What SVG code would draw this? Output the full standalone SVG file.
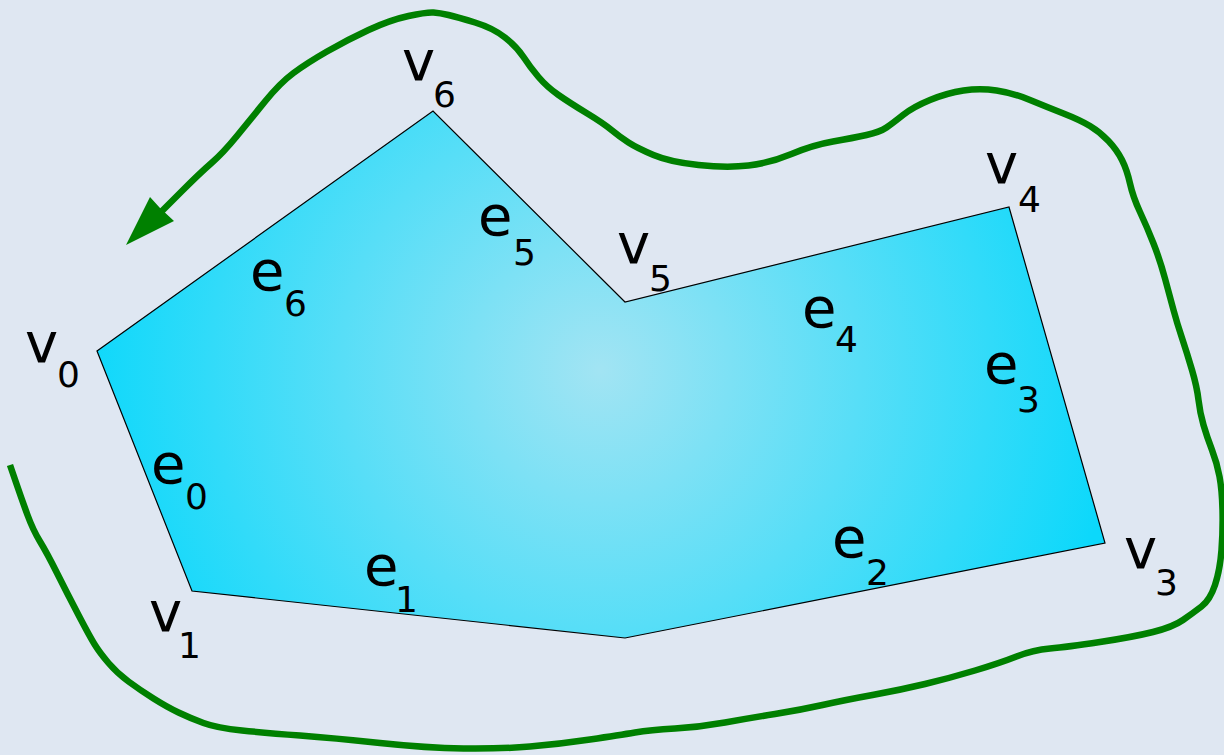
<svg xmlns="http://www.w3.org/2000/svg" width="1224" height="755" viewBox="0 0 1224 755">
<style>
.lbl{font-family:"DejaVu Sans","Liberation Sans",sans-serif;fill:#000}
.m{font-size:56px}
.s{font-size:36px}
.curve{fill:none;stroke:#008000;stroke-width:6.5;stroke-linecap:butt;stroke-linejoin:round}
</style>
<defs>
<radialGradient id="fillg" gradientUnits="userSpaceOnUse" cx="600" cy="370" r="520">
<stop offset="0" stop-color="#a2e4f3"/>
<stop offset="1" stop-color="#0cd8fb"/>
</radialGradient>
</defs>
<rect width="1224" height="755" fill="#dfe7f2"/>
<g id="polygon">
<polygon points="97,351 192,591 625,638 1105,543 1009,207 625,302 433,111" fill="url(#fillg)" stroke="#000" stroke-width="1.2" stroke-linejoin="miter"/>
</g>
<g id="connectors">
<path class="curve" d="M10,465 L16,482.5 Q22,500 27.5,515 Q33,530 40,541.5 Q47,553 57,573 Q67,593 78.5,615 Q90,637 95,645 Q100,653 108.5,663 Q117,673 128.5,681.5 Q140,690 153.5,698.5 Q167,707 178.5,712.5 Q190,718 203.5,723 Q217,728 242,730.5 Q267,733 300,735.5 Q333,738 380,743 Q427,748 463.5,748.5 Q500,749 530,746.5 Q560,744 590,739.5 Q620,735 635,732.5 Q650,730 675,728.5 Q700,727 725,722.5 Q750,718 775,714 Q800,710 822.5,705 Q845,700 872.5,695 Q900,690 925,684 Q950,678 975,670.5 Q1000,663 1016.5,656.5 Q1033,650 1050,648.5 Q1067,647 1100,642 Q1133,637 1153,632 Q1173,627 1183,620 Q1193,613 1201.5,606.5 Q1210,600 1215,585 Q1220,570 1221.5,550 Q1223,530 1222.5,510 Q1222,490 1219.5,476.5 Q1217,463 1212,450 Q1207,437 1203.5,425 Q1200,413 1198.5,400 Q1197,387 1192,370 Q1187,353 1182,338 Q1177,323 1173.5,310 Q1170,297 1165,278.5 Q1160,260 1153.5,243.5 Q1147,227 1140,212 Q1133,197 1130,183.5 Q1127,170 1122,160 Q1117,150 1108.5,141 Q1100,132 1090,126 Q1080,120 1063.5,113.5 Q1047,107 1030,100 Q1013,93 996.5,90.5 Q980,88 963.5,90.5 Q947,93 930,100 Q913,107 903,115 Q893,123 886.5,127.5 Q880,132 866.5,135 Q853,138 833,141.5 Q813,145 791.5,154 Q770,163 748.5,165.5 Q727,168 698.5,165 Q670,162 653.5,155 Q637,148 628.5,142.5 Q620,137 611.5,130 Q603,123 586.5,113 Q570,103 558.5,95 Q547,87 538.5,77 Q530,67 523.5,57 Q517,47 505,37.5 Q493,28 475,22.5 Q457,17 448.5,15 Q440,13 433.5,12.5 Q427,12 408.5,16 Q390,20 368.5,30 Q347,40 327,51.5 Q307,63 293.5,73 Q280,83 265,101.5 Q250,120 236.5,136.5 Q223,153 211.5,163 Q200,173 181.5,191.5 L160,213"/>
<polygon points="126,245 150,197 160,208 174,221" fill="#008000"/>
</g>
<g id="v0"><text class="lbl m" x="25" y="362">v</text><text class="lbl s" x="57" y="387">0</text></g>
<g id="v1"><text class="lbl m" x="149" y="631">v</text><text class="lbl s" x="178" y="658">1</text></g>
<g id="v3"><text class="lbl m" x="1124" y="568">v</text><text class="lbl s" x="1155" y="595">3</text></g>
<g id="v4"><text class="lbl m" x="985" y="183">v</text><text class="lbl s" x="1018" y="212">4</text></g>
<g id="v5"><text class="lbl m" x="617" y="263">v</text><text class="lbl s" x="649" y="291">5</text></g>
<g id="v6"><text class="lbl m" x="402" y="80">v</text><text class="lbl s" x="433" y="107">6</text></g>
<g id="e0"><text class="lbl m" x="151" y="483">e</text><text class="lbl s" x="185" y="509">0</text></g>
<g id="e1"><text class="lbl m" x="364" y="585">e</text><text class="lbl s" x="395" y="612">1</text></g>
<g id="e2"><text class="lbl m" x="832" y="557">e</text><text class="lbl s" x="866" y="585">2</text></g>
<g id="e3"><text class="lbl m" x="984" y="383">e</text><text class="lbl s" x="1017" y="412">3</text></g>
<g id="e4"><text class="lbl m" x="802" y="327">e</text><text class="lbl s" x="835" y="352">4</text></g>
<g id="e5"><text class="lbl m" x="478" y="235">e</text><text class="lbl s" x="513" y="265">5</text></g>
<g id="e6"><text class="lbl m" x="250" y="290">e</text><text class="lbl s" x="284" y="316">6</text></g>
</svg>
